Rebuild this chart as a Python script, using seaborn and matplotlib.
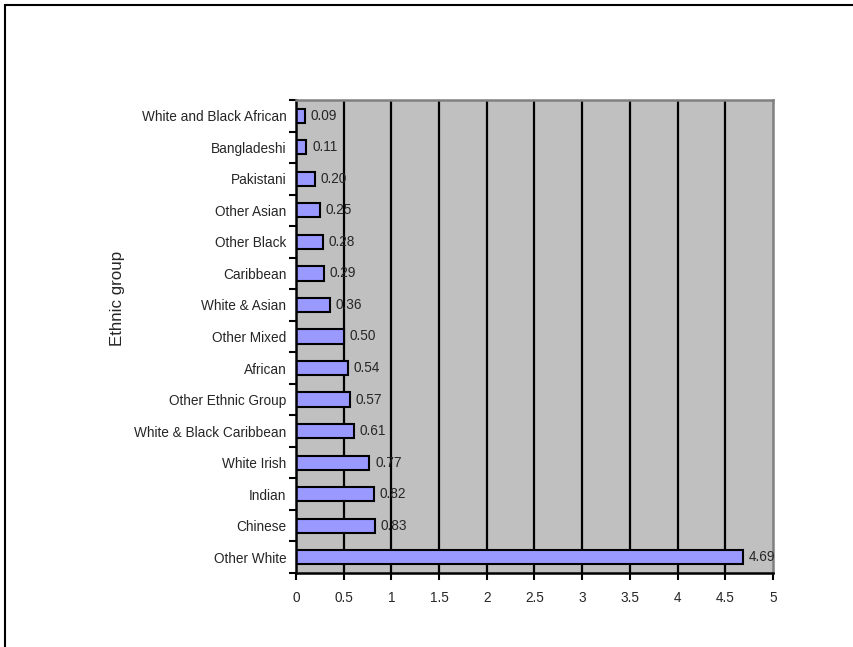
import numpy as np
import pandas as pd
import seaborn as sns
import matplotlib.pyplot as plt
from matplotlib.patches import Rectangle

groups = ['White and Black African', 'Bangladeshi', 'Pakistani', 'Other Asian',
          'Other Black', 'Caribbean', 'White & Asian', 'Other Mixed', 'African',
          'Other Ethnic Group', 'White & Black Caribbean', 'White Irish', 'Indian',
          'Chinese', 'Other White']
values = [0.09, 0.11, 0.20, 0.25, 0.28, 0.29, 0.36, 0.50, 0.54, 0.57, 0.61,
          0.77, 0.82, 0.83, 4.69]

df = pd.DataFrame({'group': groups, 'value': values})

sns.set_style('white')
plt.rcParams['font.family'] = ['Liberation Sans', 'DejaVu Sans']

fig = plt.figure(figsize=(8.54, 6.47), dpi=100)
ax = fig.add_axes([296/854, 1-573/647, (773-296)/854, (573-100)/647])

# frame around the whole chart (cut off at right and bottom like the original)
fig.patches.append(Rectangle((5/854, -0.1), 1.2, 1 - 5/647 + 0.1, transform=fig.transFigure,
                             fill=False, edgecolor='black', linewidth=1.5))

ax.set_facecolor('#C0C0C0')
sns.barplot(data=df, x='value', y='group', order=groups, orient='h',
            color='#9999FF', edgecolor='black', linewidth=1.5, width=0.45,
            saturation=1, ax=ax)

ax.set_xlim(0, 5)
ax.set_ylim(14.5, -0.5)
ax.set_xticks(np.arange(0, 5.01, 0.5))
ax.set_xticklabels(['0', '0.5', '1', '1.5', '2', '2.5', '3', '3.5', '4', '4.5', '5'])
for x in np.arange(0.5, 5.0, 0.5):
    ax.axvline(x, color='black', linewidth=1.6, zorder=0.5)

fs = 9.8
ax.set_yticks(np.arange(len(groups)))
ax.set_yticklabels(groups)
ax.set_yticks(np.arange(-0.5, len(groups), 1), minor=True)
ax.tick_params(axis='y', which='major', length=0, pad=7, labelsize=fs)
ax.tick_params(axis='y', which='minor', length=5, width=1.5, color='black', direction='out', left=True)
ax.tick_params(axis='x', which='major', length=5, width=1.5, color='black', direction='out',
               bottom=True, pad=8, labelsize=fs)

for side in ['left', 'bottom']:
    ax.spines[side].set_color('black')
    ax.spines[side].set_linewidth(1.8)
for side in ['top', 'right']:
    ax.spines[side].set_color('#808080')
    ax.spines[side].set_linewidth(1.8)
    ax.spines[side].set_visible(True)

ax.bar_label(ax.containers[0], labels=[f'{v:.2f}' for v in values], padding=4, fontsize=fs)

ax.set_xlabel('')
ax.set_ylabel('Ethnic group', fontsize=12.2)
ax.yaxis.set_label_coords(-0.359, 0.581)

fig.savefig('out.png', dpi=100)
